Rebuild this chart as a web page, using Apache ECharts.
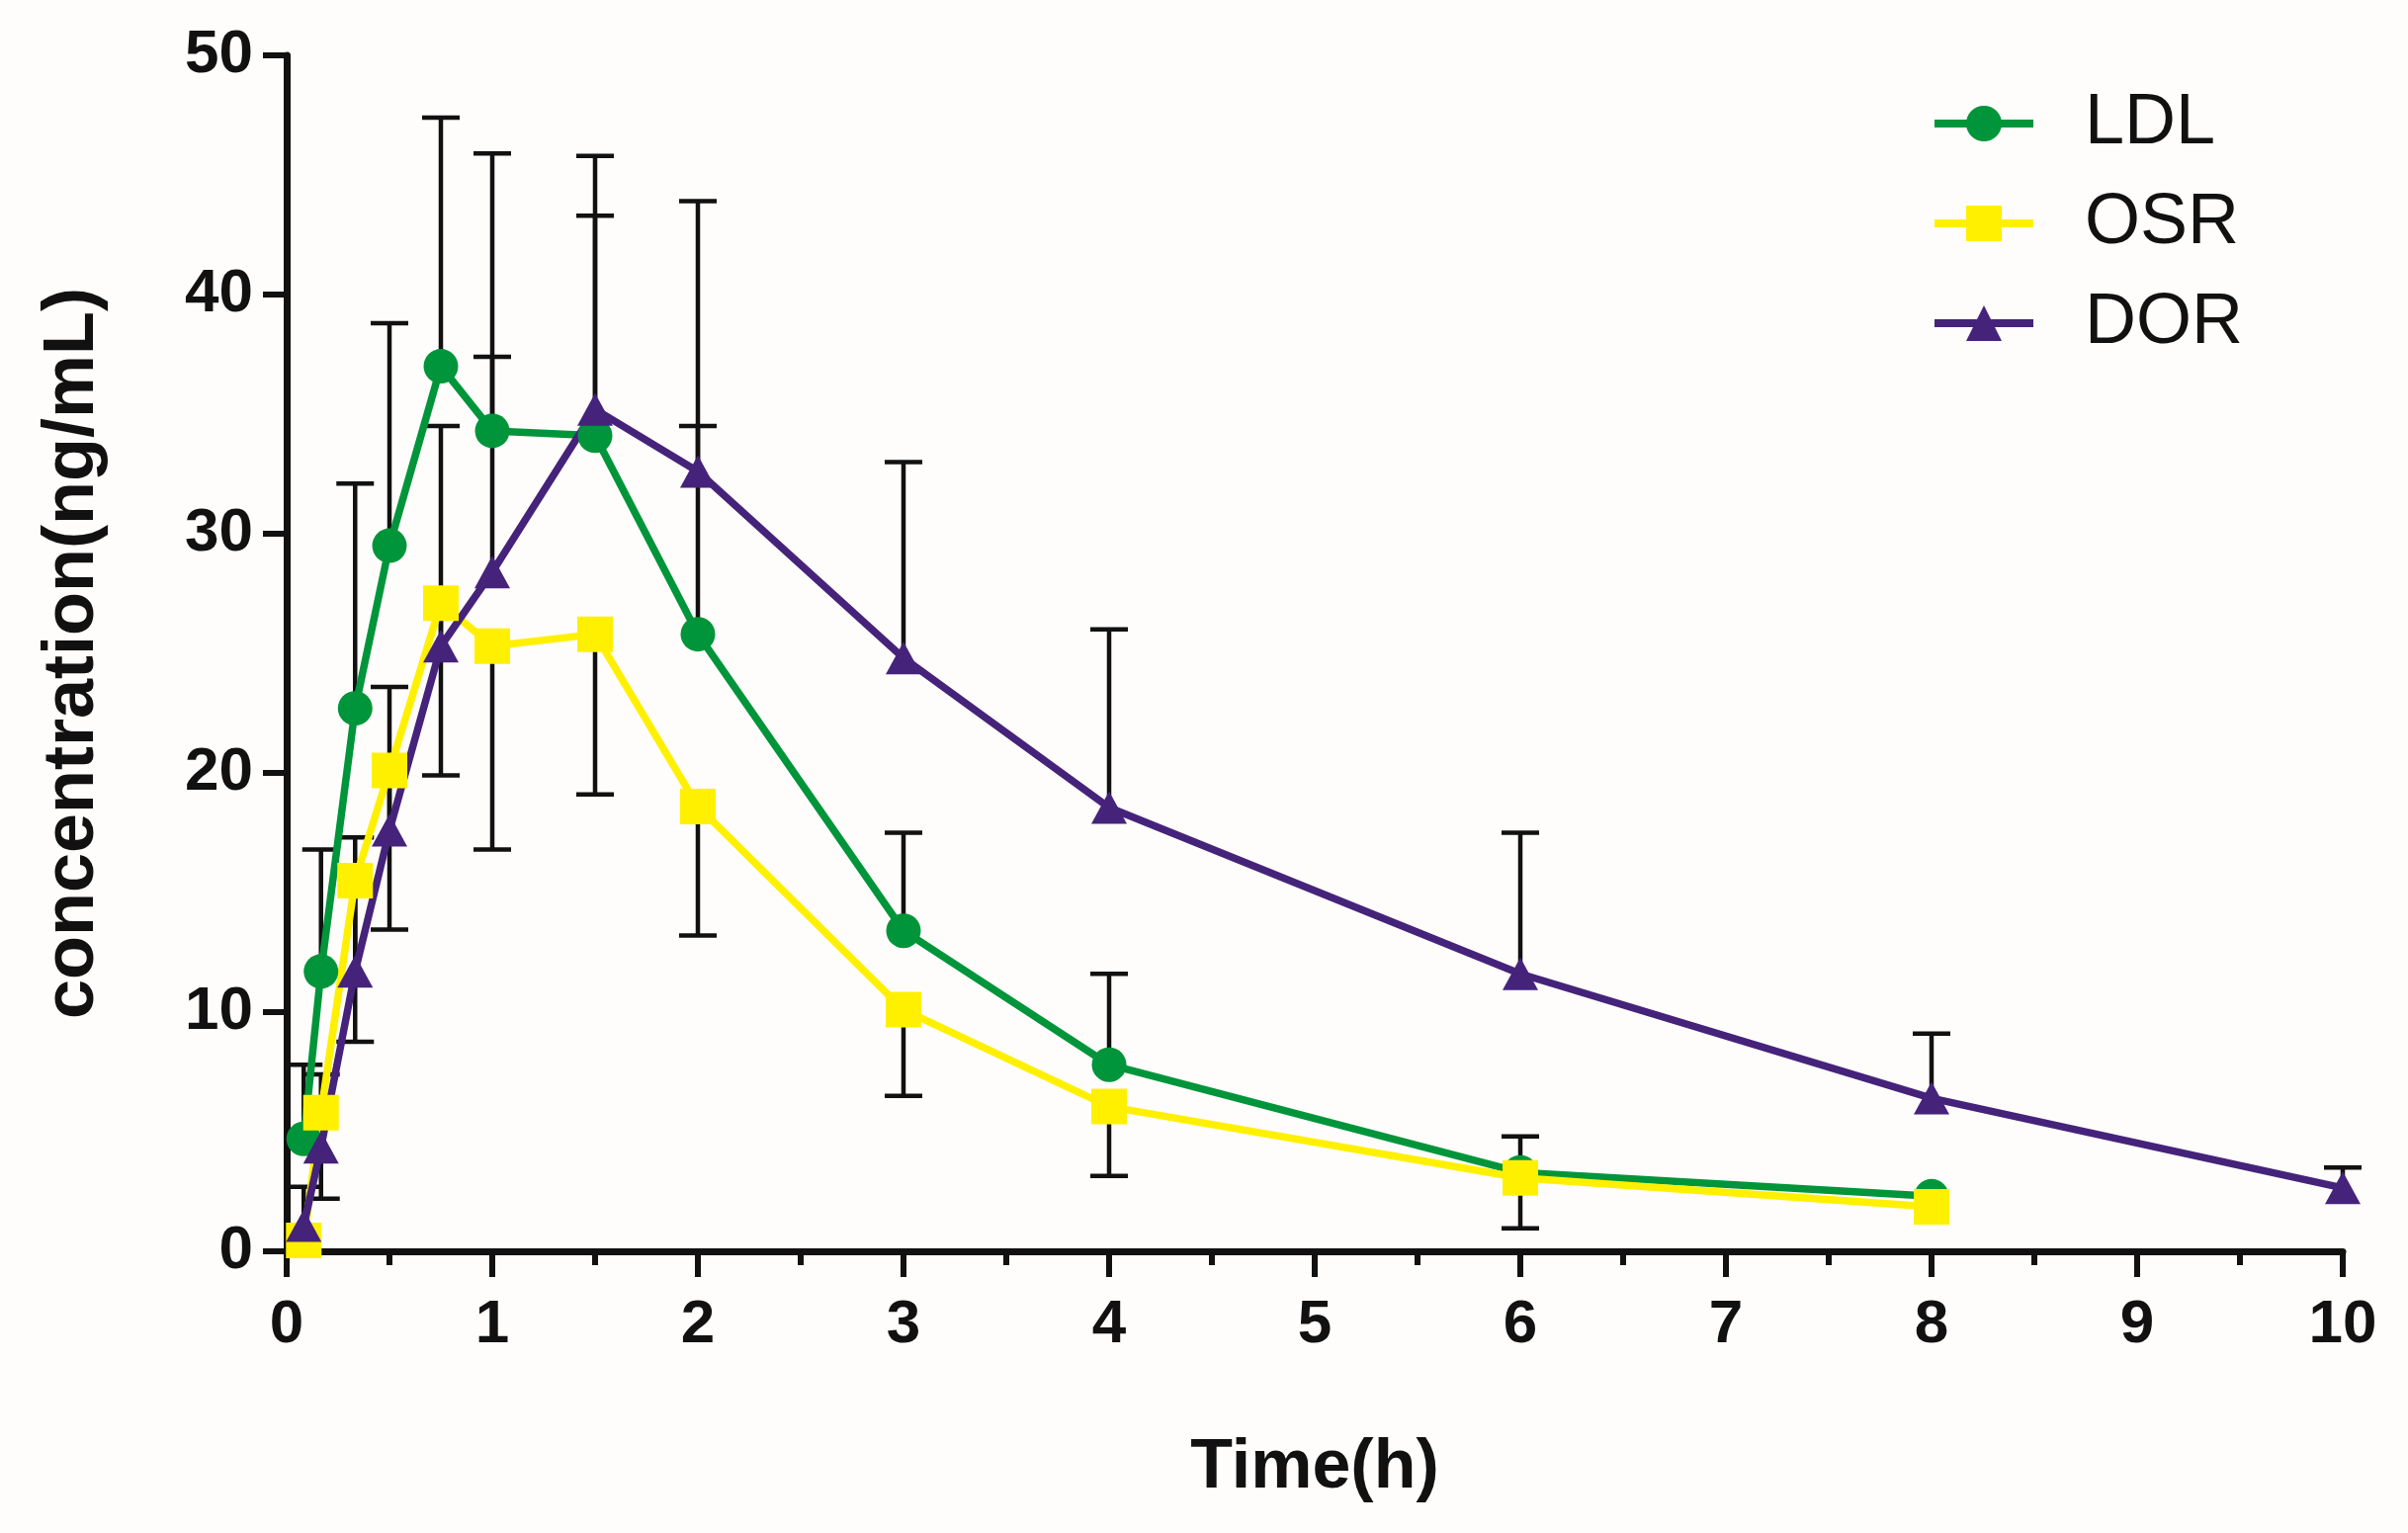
<!DOCTYPE html>
<html><head><meta charset="utf-8">
<script src="https://cdn.jsdelivr.net/npm/echarts@6/dist/echarts.min.js"></script>
<style>html,body{margin:0;padding:0;background:#fffdfb}#c{width:2436px;height:1551px}</style>
</head><body><div id="c"></div>
<script>
// Time points (h)
const timesLDL = [0.083, 0.167, 0.333, 0.5, 0.75, 1, 1.5, 2, 3, 4, 6, 8];
const timesOSR = [0.083, 0.167, 0.333, 0.5, 0.75, 1, 1.5, 2, 3, 4, 6, 8];
const timesDOR = [0.083, 0.167, 0.333, 0.5, 0.75, 1, 1.5, 2, 3, 4, 6, 8, 10];
// Mean concentrations (ng/mL)
const meanLDL = [4.7, 11.7, 22.7, 29.5, 37.0, 34.3, 34.1, 25.8, 13.4, 7.8, 3.3, 2.3];
const meanOSR = [0.45, 5.8, 15.5, 20.1, 27.1, 25.3, 25.8, 18.6, 10.1, 6.05, 3.07, 1.86];
const meanDOR = [1.07, 4.35, 11.7, 17.6, 25.3, 28.4, 35.2, 32.6, 24.8, 18.55, 11.6, 6.4, 2.65];
// Error bar ends (LDL & DOR drawn upward, OSR drawn downward); null = not visible
const errEndLDL = [7.8, 16.8, 32.1, 38.8, 47.4, 45.9, 43.3, 34.5, 17.5, 11.6, 4.8, null];
const errEndOSR = [null, 2.2, 8.76, 13.45, 19.9, 16.8, 19.1, 13.2, 6.5, 3.15, 0.96, null];
const errEndDOR = [2.7, 7.4, 17.3, 23.6, 34.5, 37.4, 45.8, 43.9, 33.0, 26.0, 17.5, 9.1, 3.5];
// Axis ticks
const xTicks = [0, 1, 2, 3, 4, 5, 6, 7, 8, 9, 10];
const yTicks = [0, 10, 20, 30, 40, 50];

const seriesNames = ['LDL', 'OSR', 'DOR'];
const colors = {LDL: '#00953a', OSR: '#fff000', DOR: '#45237a'};

function pairs(ts, vs) { return ts.map((t, i) => [t, vs[i]]); }

function errorSeries(name, ts, means, ends) {
  const data = [];
  ts.forEach((t, i) => { if (ends[i] != null) data.push([t, means[i], ends[i]]); });
  return {
    type: 'custom', name: name + ' SD', silent: true, z: 1,
    data: data,
    encode: {x: 0, y: [1, 2]},
    renderItem: function (params, api) {
      const p0 = api.coord([api.value(0), api.value(1)]);
      const p1 = api.coord([api.value(0), api.value(2)]);
      const hw = 19;
      return {type: 'group', children: [
        {type: 'line', shape: {x1: p0[0], y1: p0[1], x2: p1[0], y2: p1[1]}, style: {stroke: '#111', lineWidth: 4.5}},
        {type: 'line', shape: {x1: p1[0] - hw, y1: p1[1], x2: p1[0] + hw, y2: p1[1]}, style: {stroke: '#111', lineWidth: 4.5}}
      ]};
    }
  };
}

function lineSeries(name, ts, vs, symbol, size) {
  return {
    type: 'line', name: name, data: pairs(ts, vs), z: 3,
    symbol: symbol, symbolSize: size, showAllSymbol: true,
    lineStyle: {color: colors[name], width: 7.5},
    itemStyle: {color: colors[name], borderWidth: 0},
    emphasis: {disabled: true}
  };
}

const chart = echarts.init(document.getElementById('c'));
const font = 'Liberation Sans, Arial, sans-serif';
chart.setOption({
  animation: false,
  backgroundColor: '#fffdfb',
  grid: {left: 290, right: 66, top: 56, bottom: 285},
  legend: {
    data: seriesNames, orient: 'vertical', left: 1948, top: 84,
    itemWidth: 100, itemHeight: 45, itemGap: 29,
    textStyle: {fontSize: 72, color: '#111', fontFamily: font, padding: [0, 0, 0, 47]},
    lineStyle: {width: 8}
  },
  xAxis: {
    type: 'value', min: xTicks[0], max: xTicks[xTicks.length - 1], interval: 1,
    name: 'Time(h)', nameLocation: 'middle', nameGap: 185,
    nameTextStyle: {fontSize: 70, fontWeight: 'bold', color: '#111', fontFamily: font},
    axisLine: {lineStyle: {color: '#111', width: 7}},
    axisTick: {length: 26, lineStyle: {width: 6, color: '#111'}},
    minorTick: {show: true, splitNumber: 2, length: 14, lineStyle: {width: 6, color: '#111'}},
    splitLine: {show: false},
    axisLabel: {fontSize: 62, fontWeight: 'bold', color: '#111', fontFamily: font, margin: 44,
      formatter: v => xTicks.indexOf(v) >= 0 ? String(v) : ''}
  },
  yAxis: {
    type: 'value', min: yTicks[0], max: yTicks[yTicks.length - 1], interval: 10,
    name: 'concentration(ng/mL)', nameLocation: 'middle', nameGap: 180,
    nameTextStyle: {fontSize: 72, fontWeight: 'bold', color: '#111', fontFamily: font},
    axisLine: {show: true, lineStyle: {color: '#111', width: 7}},
    axisTick: {show: true, length: 24, lineStyle: {width: 6, color: '#111'}},
    splitLine: {show: false},
    axisLabel: {fontSize: 62, fontWeight: 'bold', color: '#111', fontFamily: font, margin: 34,
      formatter: v => yTicks.indexOf(v) >= 0 ? String(v) : ''}
  },
  series: [
    errorSeries('LDL', timesLDL, meanLDL, errEndLDL),
    errorSeries('OSR', timesOSR, meanOSR, errEndOSR),
    errorSeries('DOR', timesDOR, meanDOR, errEndDOR),
    lineSeries('LDL', timesLDL, meanLDL, 'circle', 35),
    lineSeries('OSR', timesOSR, meanOSR, 'rect', 36),
    lineSeries('DOR', timesDOR, meanDOR, 'triangle', [36, 33])
  ]
});
</script></body></html>
